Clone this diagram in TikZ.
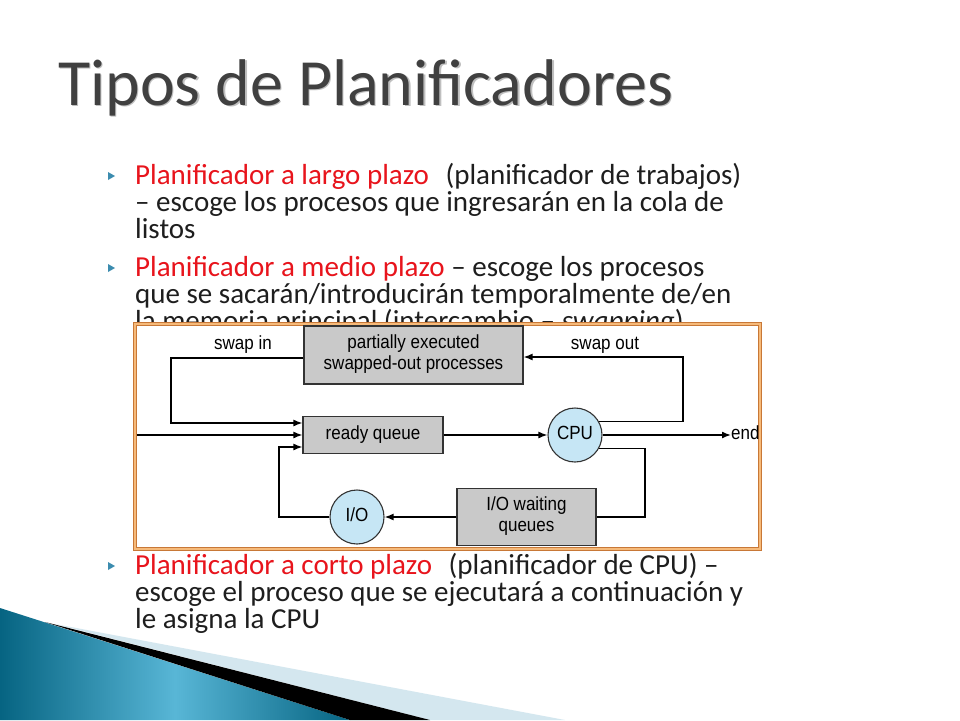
\documentclass[tikz,border=0pt]{standalone}
\usepackage{fontspec}
\setmainfont{Carlito}
\newfontfamily\diagfont{Liberation Sans}
\usepackage{xcolor}
\usepackage{graphicx}
\usepackage{tikz}
\usetikzlibrary{arrows.meta,calc}

\definecolor{slidered}{RGB}{232,20,28}
\definecolor{slidetext}{RGB}{30,30,30}
\definecolor{titlegray}{RGB}{64,64,64}
\definecolor{bulletblue}{RGB}{60,140,175}
\definecolor{boxgray}{RGB}{201,201,201}
\definecolor{cpublue}{RGB}{198,230,245}
\definecolor{frameorange}{RGB}{246,186,122}
\definecolor{framedark}{RGB}{200,120,55}
\definecolor{tealdark}{RGB}{6,100,130}
\definecolor{teallight}{RGB}{88,182,214}
\definecolor{palestripe}{RGB}{212,231,239}

\tikzset{
  line/.style={slidetext, anchor=base west, inner sep=0pt, font=\fontsize{29}{29}\selectfont},
  qbox/.style={draw=black!80, fill=boxgray, line width=1.1pt, inner sep=0pt,
    font=\diagfont\fontsize{17}{18}\selectfont},
  qcirc/.style={circle, draw=black!80, fill=cpublue, line width=1.1pt, minimum size=54pt,
    inner sep=0pt, font=\diagfont\fontsize{17}{18}\selectfont},
  lbl/.style={font=\diagfont\fontsize{17}{18}\selectfont, inner sep=0pt},
  arr/.style={line width=1.5pt, -{Latex[length=9pt,width=7pt]}},
  link/.style={line width=1.5pt},
}

\newcommand{\bulletmark}[1]{\fill[bulletblue] (108,#1-4) -- (115,#1) -- (108,#1+4) -- cycle;}
\newcommand{\dtext}[1]{\scalebox{1}[1.12]{\begin{tabular}{@{}c@{}}#1\end{tabular}}}

\begin{document}
\begin{tikzpicture}[x=1pt, y=-1pt]
    \useasboundingbox (0,0) rectangle (960,720);
    \fill[white] (0,0) rectangle (960,720);

    % corner decoration
    \shade[left color=tealdark, right color=tealdark, middle color=teallight]
        (0,608) -- (350,720) -- (0,720) -- cycle;
    \fill[palestripe] (55,624) -- (565,720) -- (430,720) -- cycle;
    \fill[black] (45,622) -- (430,720) -- (350,720) -- cycle;

    % title
    \node[anchor=base west, inner sep=0pt, text=black!25, font=\fontsize{66}{66}\selectfont]
        at (59.5,106.5) {Tipos de Planificadores};
    \node[anchor=base west, inner sep=0pt, text=titlegray, font=\fontsize{66}{66}\selectfont]
        (title) at (58,105) {Tipos de Planificadores};

    % bullets
    \bulletmark{176}
    \node[line] (b1a) at (135,184) {\textcolor{slidered}{Planificador a largo plazo}\hspace{10pt} (planificador de trabajos)};
    \node[line] (b1b) at (135,211) {– escoge los procesos que ingresarán en la cola de};
    \node[line] (b1c) at (135,238) {listos};
    \bulletmark{268}
    \node[line] (b2a) at (135,276) {\textcolor{slidered}{Planificador a medio plazo} – escoge los procesos};
    \node[line] (b2b) at (135,303) {que se sacarán/introducirán temporalmente de/en};
    \node[line] (b2c) at (135,330) {la memoria principal (intercambio – \textit{swapping})};
    \bulletmark{566}
    \node[line] (b3a) at (135,574) {\textcolor{slidered}{Planificador a corto plazo}\hspace{10pt} (planificador de CPU) –};
    \node[line] (b3b) at (135,601) {escoge el proceso que se ejecutará a continuación y};
    \node[line] (b3c) at (135,628) {le asigna la CPU};

    % picture frame
    \fill[white] (135,324) rectangle (760,549);
    \draw[framedark, line width=3.6pt] (135,324) rectangle (760,549);
    \draw[frameorange, line width=2pt] (135,324) rectangle (760,549);

    % queueing diagram
    \node[qbox, minimum width=219pt, minimum height=58pt] (swapped) at (413.5,355)
        {\dtext{partially executed\\swapped-out processes}};
    \node[qbox, minimum width=140pt, minimum height=37pt] (ready) at (373,435) {\dtext{ready queue}};
    \node[qcirc] (cpu) at (575,435) {\dtext{CPU}};
    \node[qbox, minimum width=139pt, minimum height=57pt] (waiting) at (526.5,517)
        {\dtext{I/O waiting\\queues}};
    \node[qcirc] (io) at (357,517) {\dtext{I/O}};
    \node[lbl] (swapin) at (243,345) {\dtext{swap in}};
    \node[lbl] (swapout) at (605,345) {\dtext{swap out}};
    \node[lbl, anchor=west] (end) at (731,435) {\dtext{end}};
    \coordinate (in) at (137,435);

    \draw[arr] ([yshift=-3pt]swapped.west) -| (171,400) |- ([yshift=12pt]ready.west);
    \draw[arr] (in) -- (ready.west);
    \draw[arr] (io.west) -| (279,480) |- ([yshift=-12pt]ready.west);
    \draw[arr] (ready) -- (cpu);
    \draw[arr] (cpu) -- (end.west);
    \draw[arr] (cpu.29) -| (683,400) |- ([yshift=-2pt]swapped.east);
    \draw[link] (cpu.-29) -| (645,480) |- (waiting.east);
    \draw[arr] (waiting) -- (io);
\end{tikzpicture}
\end{document}
